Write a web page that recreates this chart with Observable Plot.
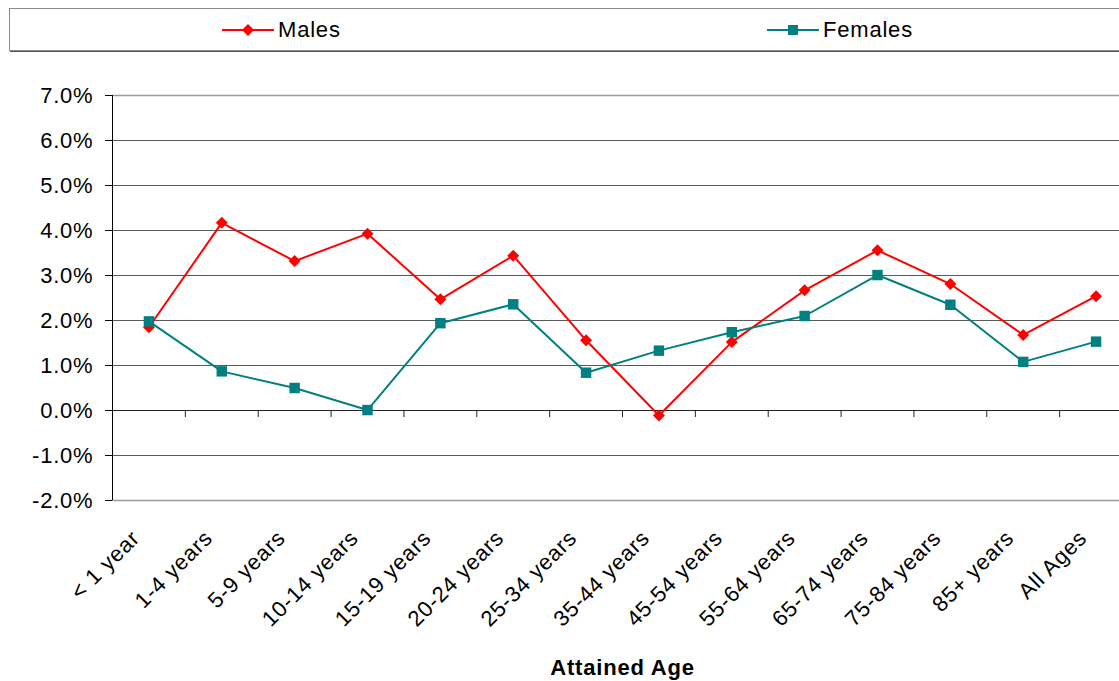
<!DOCTYPE html>
<html>
<head>
<meta charset="utf-8">
<script src="https://cdn.jsdelivr.net/npm/d3@7"></script>
<script src="https://cdn.jsdelivr.net/npm/@observablehq/plot@0.6"></script>
<style>
  html, body { margin: 0; padding: 0; background: #fff; overflow: hidden; width: 1119px; height: 681px; }
  body { font-family: "Liberation Sans", Arial, sans-serif; position: relative; }
  #legend { position: absolute; left: 0; top: 0; width: 1119px; height: 55px; }
  #legend .box { position: absolute; left: 9px; top: 8px; width: 1130px; height: 41px;
    border: 1px solid #8a8a8a; box-shadow: 1px 1px 0 #555; background: #fff; }
  .item { position: absolute; top: 0; height: 41px; display: flex; align-items: center; font-size: 22px; letter-spacing: 0.8px; color: #000; }
  .item svg { margin-right: 3px; }
  #chart { position: absolute; left: 0; top: 55px; }
  #chart svg { display: block; max-width: none !important; }
</style>
</head>
<body>
<div id="legend"><div class="box"></div></div>
<div id="chart"></div>
<script>
const categories = ["< 1 year", "1-4 years", "5-9 years", "10-14 years", "15-19 years", "20-24 years",
  "25-34 years", "35-44 years", "45-54 years", "55-64 years", "65-74 years", "75-84 years", "85+ years", "All Ages"];
const males   = [1.85, 4.17, 3.32, 3.93, 2.47, 3.44, 1.56, -0.11, 1.52, 2.67, 3.56, 2.81, 1.68, 2.54];
const females = [1.98, 0.87, 0.50, 0.01, 1.94, 2.36, 0.84, 1.33, 1.74, 2.10, 3.01, 2.35, 1.08, 1.53];
const yTicks = [-2, -1, 0, 1, 2, 3, 4, 5, 6, 7];
const seriesNames = ["Males", "Females"];
const seriesColors = ["#FF0000", "#008080"];
const xTitle = "Attained Age";

const idx = categories.map((_, i) => i);
const maleData = idx.map(i => ({i, v: males[i]}));
const femaleData = idx.map(i => ({i, v: females[i]}));
const boundaries = idx.slice(1).map(i => i - 0.5);

// legend
const legendBox = document.querySelector("#legend .box");
const legendX = [212, 757];
seriesNames.forEach((name, k) => {
  const item = document.createElement("div");
  item.className = "item";
  item.style.left = legendX[k] + "px";
  const sym = k === 0
    ? `<polygon points="26,14 32,20 26,26 20,20" fill="${seriesColors[k]}"/>`
    : `<rect x="21" y="15" width="10" height="10" fill="${seriesColors[k]}"/>`;
  item.innerHTML = `<svg width="53" height="40" viewBox="0 0 53 40"><line x1="0" x2="52" y1="20" y2="20" stroke="${seriesColors[k]}" stroke-width="2"/>${sym}</svg><span>${name}</span>`;
  legendBox.appendChild(item);
});

const chart = Plot.plot({
  width: 1132,
  height: 626,
  marginLeft: 112,
  marginRight: 0,
  marginTop: 40,
  marginBottom: 181,
  style: {fontFamily: "'Liberation Sans', Arial, sans-serif", fontSize: "22px", letterSpacing: "0.8px", color: "#000", background: "#fff", overflow: "visible", maxWidth: "none"},
  x: {type: "linear", domain: [-0.5, categories.length - 0.5], axis: null},
  y: {domain: [yTicks[0], yTicks[yTicks.length - 1]], axis: null},
  marks: [
    Plot.ruleY(yTicks.filter(t => t !== 0 && t !== yTicks[0] && t !== yTicks[yTicks.length - 1]), {stroke: "#5a5a5a", strokeWidth: 1}),
    Plot.ruleY([yTicks[0], yTicks[yTicks.length - 1]], {stroke: "#9a9a9a", strokeWidth: 1.5}),
    Plot.ruleY([0], {stroke: "#222", strokeWidth: 1}),
    Plot.ruleX(boundaries, {x: d => d, y1: 0, y2: 0, insetBottom: -7, stroke: "#222", strokeWidth: 1}),
    Plot.ruleX([-0.5], {y1: yTicks[0], y2: yTicks[yTicks.length - 1], stroke: "#000", strokeWidth: 1}),
    Plot.axisY({ticks: yTicks, tickFormat: d => d.toFixed(1) + "%", label: null, tickSize: 7, tickPadding: 12, stroke: "#000", fontSize: 22}),
    Plot.line(maleData, {x: "i", y: "v", stroke: seriesColors[0], strokeWidth: 2}),
    Plot.dot(maleData, {x: "i", y: "v", symbol: "diamond2", r: 5.4, fill: seriesColors[0], stroke: "none"}),
    Plot.line(femaleData, {x: "i", y: "v", stroke: seriesColors[1], strokeWidth: 2}),
    Plot.dot(femaleData, {x: "i", y: "v", symbol: "square", r: 5.9, fill: seriesColors[1], stroke: "none"}),
    Plot.text(idx, {x: d => d, text: d => categories[d], frameAnchor: "bottom", rotate: -45, textAnchor: "end", lineAnchor: "middle", dy: 34, dx: -13, fontSize: 22, fill: "#000"}),
    Plot.text([xTitle], {frameAnchor: "bottom", x: (categories.length - 1) / 2, text: d => d, dy: 167, lineAnchor: "middle", fontSize: 22, fontWeight: "bold", fill: "#000"})
  ]
});
document.getElementById("chart").appendChild(chart);
</script>
</body>
</html>
